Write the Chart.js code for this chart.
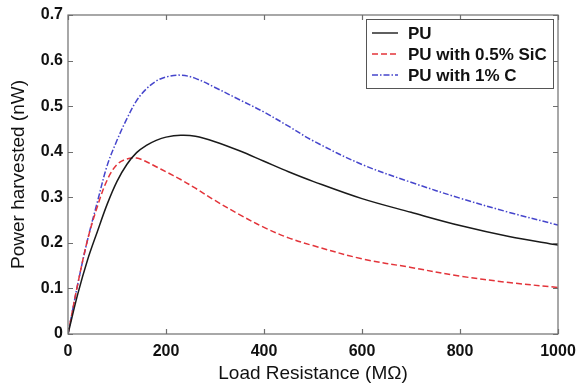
<!DOCTYPE html>
<html>
<head>
<meta charset="utf-8">
<script src="https://cdn.jsdelivr.net/npm/chart.js@4"></script>
<style>
  html, body { margin: 0; padding: 0; background: #fff; }
  #wrap { width: 576px; height: 387px; }
</style>
</head>
<body>
<div id="wrap"><canvas id="powerChart" width="576" height="387"></canvas></div>
<script>
// load resistance (MOhm)
const resistance = [0, 20, 40, 60, 80, 100, 120, 140, 160, 180, 200, 230, 260, 300, 350, 400, 450, 500, 600, 700, 800, 900, 1000];

// power harvested (nW)
const pu = [0, 0.088, 0.163, 0.225, 0.285, 0.335, 0.372, 0.398, 0.414, 0.425, 0.432, 0.436, 0.434, 0.422, 0.402, 0.379, 0.356, 0.335, 0.297, 0.267, 0.238, 0.214, 0.195];
const puSiC = [0, 0.11, 0.207, 0.28, 0.338, 0.372, 0.384, 0.386, 0.378, 0.367, 0.356, 0.339, 0.32, 0.293, 0.262, 0.234, 0.211, 0.194, 0.165, 0.146, 0.127, 0.113, 0.102];
const puC = [0, 0.11, 0.207, 0.29, 0.37, 0.425, 0.472, 0.512, 0.538, 0.555, 0.564, 0.568, 0.561, 0.541, 0.514, 0.487, 0.456, 0.424, 0.372, 0.333, 0.298, 0.267, 0.239];

const xTicks = [0, 200, 400, 600, 800, 1000];
const yTicks = [0, 0.1, 0.2, 0.3, 0.4, 0.5, 0.6, 0.7];

const toPoints = arr => arr.map((v, i) => ({ x: resistance[i], y: v }));

const series = [
  { label: "PU", data: pu, color: "#1a1a1a", dash: [] },
  { label: "PU with 0.5% SiC", data: puSiC, color: "#e3343a", dash: [6, 3] },
  { label: "PU with 1% C", data: puC, color: "#4646cc", dash: [6, 2, 1.5, 2] }
];

// frame with inward ticks on all four sides + legend box inside the plot
const framePlugin = {
  id: "frame",
  afterDatasetsDraw(chart) {
    const { ctx, chartArea: a, scales } = chart;
    ctx.save();
    ctx.strokeStyle = "#6e6e6e";
    ctx.lineWidth = 1.2;
    ctx.strokeRect(a.left, a.top, a.right - a.left, a.bottom - a.top);
    ctx.beginPath();
    xTicks.forEach(t => {
      const px = Math.round(scales.x.getPixelForValue(t)) + 0.5;
      ctx.moveTo(px, a.bottom); ctx.lineTo(px, a.bottom - 5);
      ctx.moveTo(px, a.top); ctx.lineTo(px, a.top + 5);
    });
    yTicks.forEach(t => {
      const py = Math.round(scales.y.getPixelForValue(t)) + 0.5;
      ctx.moveTo(a.left, py); ctx.lineTo(a.left + 5, py);
      ctx.moveTo(a.right, py); ctx.lineTo(a.right - 5, py);
    });
    ctx.stroke();

    // legend
    const boxW = 187, boxH = 69;
    const bx = a.right - 5 - boxW, by = a.top + 4;
    ctx.fillStyle = "#fff";
    ctx.fillRect(bx, by, boxW, boxH);
    ctx.strokeStyle = "#555";
    ctx.lineWidth = 1;
    ctx.strokeRect(bx + 0.5, by + 0.5, boxW, boxH);
    ctx.font = "bold 17px 'Liberation Sans', Arial, sans-serif";
    ctx.textBaseline = "middle";
    ctx.textAlign = "left";
    series.forEach((s, i) => {
      const y = by + 14 + i * 21;
      ctx.strokeStyle = s.color;
      ctx.lineWidth = 1.4;
      ctx.setLineDash(s.dash);
      ctx.beginPath();
      ctx.moveTo(bx + 6, y); ctx.lineTo(bx + 32, y);
      ctx.stroke();
      ctx.setLineDash([]);
      ctx.fillStyle = "#111";
      ctx.fillText(s.label, bx + 42, y + 1);
    });
    ctx.restore();
  }
};

new Chart(document.getElementById("powerChart").getContext("2d"), {
  type: "line",
  data: {
    datasets: series.map(s => ({
      label: s.label,
      data: toPoints(s.data),
      borderColor: s.color,
      borderWidth: 1.5,
      borderDash: s.dash,
      pointRadius: 0,
      tension: 0.35,
      fill: false
    }))
  },
  options: {
    responsive: false,
    animation: false,
    layout: { padding: { left: 0, right: 18, top: 15, bottom: 0 } },
    plugins: { legend: { display: false }, tooltip: { enabled: false } },
    scales: {
      x: {
        type: "linear",
        min: 0,
        max: 1000,
        afterBuildTicks: s => { s.ticks = xTicks.map(v => ({ value: v })); },
        afterFit: s => { s.height = 53; s.paddingLeft = 0; s.paddingRight = 0; },
        grid: { display: false, drawTicks: false },
        border: { display: false },
        ticks: {
          padding: 8,
          color: "#111",
          maxRotation: 0,
          font: { family: "'Liberation Sans', Arial, sans-serif", size: 16, weight: "bold" },
          callback: v => String(v)
        },
        title: {
          display: true,
          text: "Load Resistance (MΩ)",
          color: "#111",
          padding: { top: 0, bottom: 2 },
          font: { family: "'Liberation Sans', Arial, sans-serif", size: 19 }
        }
      },
      y: {
        min: 0,
        max: 0.7,
        afterBuildTicks: s => { s.ticks = yTicks.map(v => ({ value: v })); },
        afterFit: s => { s.width = 68; s.paddingTop = 0; s.paddingBottom = 0; },
        grid: { display: false, drawTicks: false },
        border: { display: false },
        ticks: {
          padding: 5,
          color: "#111",
          font: { family: "'Liberation Sans', Arial, sans-serif", size: 16, weight: "bold" },
          callback: v => (v === 0 ? "0" : v.toFixed(1))
        },
        title: {
          display: true,
          text: "Power harvested (nW)",
          color: "#111",
          padding: { top: 7, bottom: 0 },
          font: { family: "'Liberation Sans', Arial, sans-serif", size: 19 }
        }
      }
    }
  },
  plugins: [framePlugin]
});
</script>
</body>
</html>
